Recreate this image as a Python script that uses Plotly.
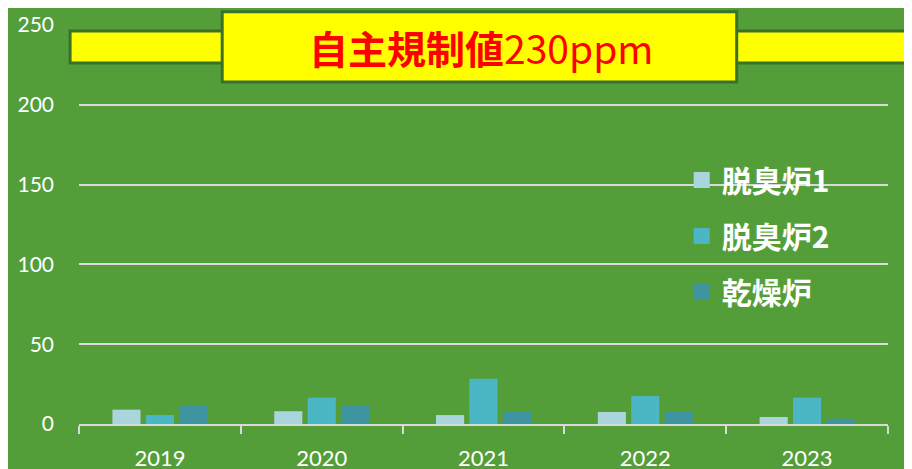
import plotly.graph_objects as go

years = ["2019", "2020", "2021", "2022", "2023"]
series_names = ["脱臭炉1", "脱臭炉2", "乾燥炉"]
deo1 = [9, 8, 5.6, 7.5, 4.4]
deo2 = [5.6, 16.5, 28.4, 17.5, 16.5]
dryer = [11.5, 11.5, 7.5, 8, 3.3]
colors = ["#abd5dd", "#4bb7c5", "#3e95a0"]
limit_label = "<b>自主規制値</b>230ppm"

BG = "#549e39"
GRID = "#d9d9d9"
BORDER = "#3b7029"

fig = go.Figure()
for i, (name, vals) in enumerate(zip(series_names, [deo1, deo2, dryer])):
    fig.add_trace(go.Bar(x=years, y=vals, name=name, marker_color=colors[i],
                         marker_line_width=0, showlegend=False))
# legend entries (no marks drawn)
for i, name in enumerate(series_names):
    fig.add_trace(go.Scatter(x=[None], y=[None], mode="markers", name=f"<b>{name}</b>",
                             marker=dict(symbol="square", size=16, color=colors[i]),
                             legendgroup=f"g{i}"))

fig.update_layout(
    width=904, height=461,
    margin=dict(l=71, r=24, t=17, b=45),
    paper_bgcolor=BG, plot_bgcolor=BG,
    bargap=0.38, bargroupgap=0.16,
    font=dict(family="Lato, Noto Sans CJK JP", color="white"),
    legend=dict(x=0.745, y=0.677, xanchor="left", yanchor="top",
                bgcolor="rgba(0,0,0,0)",
                font=dict(size=30, family="Noto Sans CJK JP", color="white"),
                traceorder="grouped", tracegroupgap=14),
    xaxis=dict(type="category", showgrid=False, showline=True, linecolor=GRID,
               linewidth=2, ticks="outside", tickson="boundaries", ticklen=8,
               tickcolor=GRID, tickwidth=2, tickfont=dict(size=22, color="white"),
               ticklabelstandoff=14, automargin=False),
    yaxis=dict(range=[0, 250], dtick=50, showgrid=True, gridcolor=GRID, gridwidth=2,
               zeroline=False, showline=False, tickfont=dict(size=21, color="white"),
               ticklabelstandoff=24, automargin=False),
)

# limit band and label box (decoration)
fig.add_shape(type="rect", xref="paper", yref="paper", x0=-0.011, x1=1.05,
              y0=0.905, y1=0.985, fillcolor="#ffff00", line=dict(color=BORDER, width=3))
fig.add_shape(type="rect", xref="paper", yref="paper", x0=0.177, x1=0.813,
              y0=0.857, y1=1.033, fillcolor="#ffff00", line=dict(color=BORDER, width=3))
fig.add_annotation(xref="paper", yref="paper", x=0.497, y=0.945, text=limit_label,
                   showarrow=False, xanchor="center", yanchor="middle",
                   font=dict(size=39, color="#ff0000", family="Noto Sans CJK JP"))

fig.write_html("out.html")
